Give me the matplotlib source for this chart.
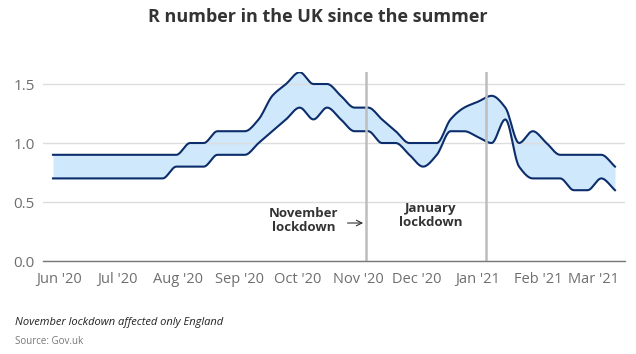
import numpy as np
import matplotlib.pyplot as plt

# weekly R estimates (range)
dates = ['2020-05-29', '2020-06-05', '2020-06-12', '2020-06-19', '2020-06-26',
         '2020-07-03', '2020-07-10', '2020-07-17', '2020-07-24', '2020-07-31',
         '2020-08-07', '2020-08-14', '2020-08-21', '2020-08-28', '2020-09-04',
         '2020-09-11', '2020-09-18', '2020-09-25', '2020-10-02', '2020-10-09',
         '2020-10-16', '2020-10-23', '2020-10-30', '2020-11-06', '2020-11-13',
         '2020-11-20', '2020-11-27', '2020-12-04', '2020-12-11', '2020-12-18',
         '2020-12-25', '2021-01-01', '2021-01-08', '2021-01-15', '2021-01-22',
         '2021-01-29', '2021-02-05', '2021-02-12', '2021-02-19', '2021-02-26',
         '2021-03-05', '2021-03-12']
r_upper = [0.9, 0.9, 0.9, 0.9, 0.9, 0.9, 0.9, 0.9, 0.9, 0.9,
           1.0, 1.0, 1.1, 1.1, 1.1, 1.2, 1.4, 1.5, 1.6, 1.5,
           1.5, 1.4, 1.3, 1.3, 1.2, 1.1, 1.0, 1.0, 1.0, 1.2,
           1.3, 1.35, 1.4, 1.3, 1.0, 1.1, 1.0, 0.9, 0.9, 0.9,
           0.9, 0.8]
r_lower = [0.7, 0.7, 0.7, 0.7, 0.7, 0.7, 0.7, 0.7, 0.7, 0.8,
           0.8, 0.8, 0.9, 0.9, 0.9, 1.0, 1.1, 1.2, 1.3, 1.2,
           1.3, 1.2, 1.1, 1.1, 1.0, 1.0, 0.9, 0.8, 0.9, 1.1,
           1.1, 1.05, 1.0, 1.2, 0.8, 0.7, 0.7, 0.7, 0.6, 0.6,
           0.7, 0.6]

month_starts = ['2020-06-01', '2020-07-01', '2020-08-01', '2020-09-01', '2020-10-01',
                '2020-11-01', '2020-12-01', '2021-01-01', '2021-02-01', '2021-03-01']
month_labels = ["Jun '20", "Jul '20", "Aug '20", "Sep '20", "Oct '20",
                "Nov '20", "Dec '20", "Jan '21", "Feb '21", "Mar '21"]
lockdowns = ['2020-11-05', '2021-01-05']

base = np.datetime64('2020-06-01')


def days(d):
    return (np.array(d, dtype='datetime64[D]') - base) / np.timedelta64(1, 'D')


def monotone(x, y, n=12):
    # monotone cubic (Fritsch-Carlson) for a smooth line through the points
    x = np.asarray(x, float)
    y = np.asarray(y, float)
    h = np.diff(x)
    s = np.diff(y) / h
    m = np.zeros_like(y)
    m[0], m[-1] = s[0], s[-1]
    for i in range(1, len(y) - 1):
        if s[i - 1] * s[i] > 0:
            w1 = 2 * h[i] + h[i - 1]
            w2 = h[i] + 2 * h[i - 1]
            m[i] = (w1 + w2) / (w1 / s[i - 1] + w2 / s[i])
    xs, ys = [], []
    for i in range(len(h)):
        t = np.linspace(0, 1, n, endpoint=False)
        h00 = 2 * t**3 - 3 * t**2 + 1
        h10 = t**3 - 2 * t**2 + t
        h01 = -2 * t**3 + 3 * t**2
        h11 = t**3 - t**2
        xs.append(x[i] + t * h[i])
        ys.append(h00 * y[i] + h10 * h[i] * m[i] + h01 * y[i + 1] + h11 * h[i] * m[i + 1])
    xs.append([x[-1]])
    ys.append([y[-1]])
    return np.concatenate(xs), np.concatenate(ys)


plt.rcParams['font.family'] = ['Open Sans', 'DejaVu Sans']

x = days(dates)
xu, yu = monotone(x, r_upper)
xl, yl = monotone(x, r_lower)

fig = plt.figure(figsize=(6.36, 3.54), dpi=100)
ax = fig.add_axes([0.0676, 0.2627, 0.9151, 0.5333])

line_c = '#0c2d6b'
ax.fill_between(xu, yl, yu, color='#cfe8fb', lw=0, zorder=1)
ax.plot(xu, yu, color=line_c, lw=1.5, zorder=3)
ax.plot(xl, yl, color=line_c, lw=1.5, zorder=3)

for d in days(lockdowns):
    ax.axvline(d, color='#bdbdbd', lw=1.8, zorder=4)

ax.set_ylim(0, 1.6)
ax.set_xlim(x[0] - 5.1, x[-1] + 5.1)
ax.set_yticks([0.0, 0.5, 1.0, 1.5])
ax.set_yticklabels(['0.0', '0.5', '1.0', '1.5'])
ax.yaxis.grid(True, color='#dddddd', lw=1, zorder=2)
ax.set_axisbelow(False)
ax.set_xticks(days(month_starts))
ax.set_xticklabels(month_labels)
ax.tick_params(length=0, labelsize=10.5, colors='#6e6e6e', pad=8)
ax.tick_params(axis='y', labelsize=11, pad=6)
for s in ['top', 'right', 'left']:
    ax.spines[s].set_visible(False)
ax.spines['bottom'].set_color('#777777')
ax.spines['bottom'].set_linewidth(1)
ax.spines['bottom'].set_zorder(5)

nov = days(lockdowns[0])
ax.text(nov - 32, 0.343, 'November\nlockdown', ha='center', va='center',
        fontsize=9.5, fontweight='bold', color='#333333', linespacing=1.05)
ax.annotate('', xy=(nov - 0.2, 0.322), xytext=(nov - 11, 0.322),
            arrowprops=dict(arrowstyle='->', color='#333333', lw=0.8))
jan_x = days('2020-12-08')
ax.text(jan_x, 0.386, 'January\nlockdown', ha='center', va='center',
        fontsize=9.5, fontweight='bold', color='#333333', linespacing=1.05)

fig.text(0.5, 0.952, 'R number in the UK since the summer', ha='center', va='center',
         fontsize=13, fontweight='bold', color='#333333')
fig.text(0.024, 0.088, 'November lockdown affected only England', ha='left', va='center',
         fontsize=8, style='italic', color='#222222')
fig.text(0.024, 0.036, 'Source: Gov.uk', ha='left', va='center',
         fontsize=7, color='#777777')

fig.savefig('out.png', dpi=100)
